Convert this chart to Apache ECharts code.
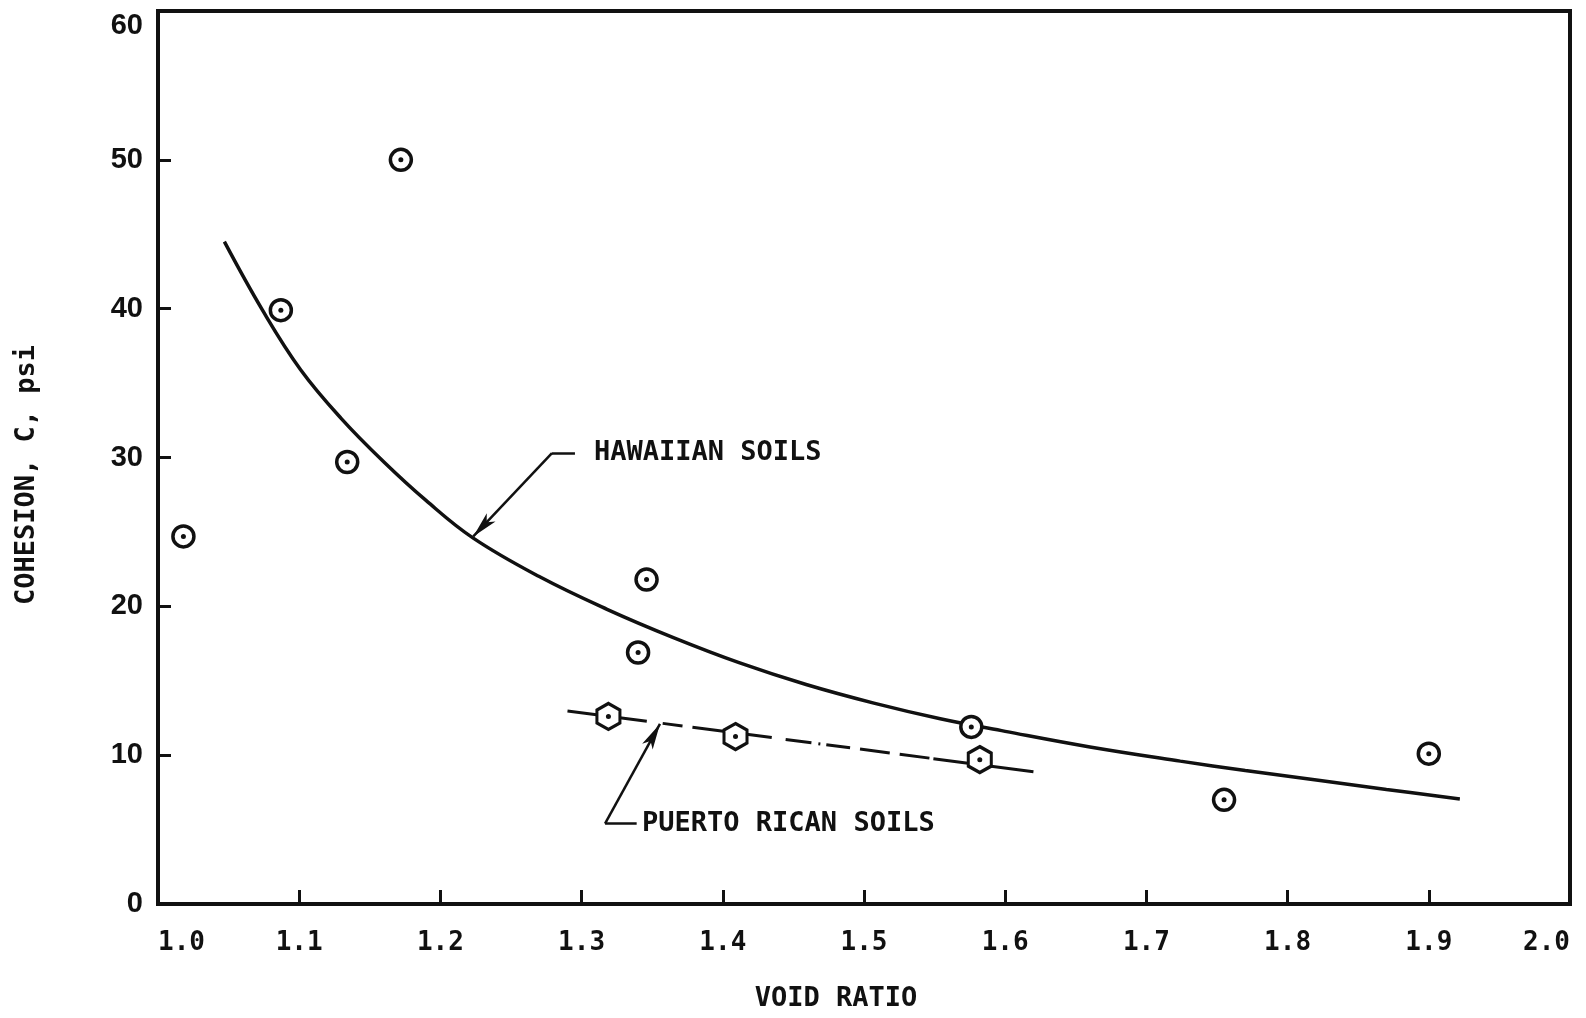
<!DOCTYPE html>
<html><head><meta charset="utf-8">
<script src="https://cdn.jsdelivr.net/npm/echarts@6/dist/echarts.min.js"></script>
<style>html,body{margin:0;padding:0;background:#fff}#c{width:1586px;height:1018px}</style>
</head><body><div id="c"></div>
<script>
// ---- data ----
const hawaiianPoints = [[1.018,24.7],[1.087,39.9],[1.134,29.7],[1.172,50.0],[1.346,21.8],[1.340,16.9],[1.576,11.9],[1.755,7.0],[1.900,10.1]];
const puertoRicanPoints = [[1.319,12.6],[1.409,11.25],[1.582,9.7]];
const hawaiianCurve = [[1.047,44.5],[1.074,39.9],[1.101,35.9],[1.130,32.6],[1.160,29.7],[1.190,27.1],[1.223,24.6],[1.270,22.0],[1.318,19.8],[1.365,17.9],[1.412,16.2],[1.459,14.75],[1.507,13.5],[1.554,12.45],[1.600,11.6],[1.660,10.55],[1.724,9.6],[1.770,8.97],[1.823,8.3],[1.870,7.7],[1.922,7.06]];
const puertoRicanLine = [[1.290,12.97],[1.620,8.89]];
const xTickLabels = ['1.0','1.1','1.2','1.3','1.4','1.5','1.6','1.7','1.8','1.9','2.0'];
const yTickLabels = ['0','10','20','30','40','50','60'];
const annotationLabels = ['HAWAIIAN SOILS','PUERTO RICAN SOILS'];
const annotationAnchors = [[1.3074,30.3],[1.3414,5.4]];
const hawaiianLeader = [[1.2953,30.3],[1.2790,30.3],[1.2233,24.7]];
const puertoRicanLeader = [[1.339,5.4],[1.3166,5.4],[1.3555,12.1]];
const xTitle = 'VOID RATIO';
const yTitle = 'COHESION, C, psi';

const MONO = "'DejaVu Sans Mono','Liberation Mono',monospace";
const INK = '#111';

function leaderLines(pts){
  return [
    [{coord: pts[0], symbol:'none'}, {coord: pts[1], symbol:'none'}],
    [{coord: pts[1], symbol:'none'}, {coord: pts[2], symbol:'arrow', symbolSize:[9,26]}]
  ];
}

const chart = echarts.init(document.getElementById('c'), null, {renderer:'canvas'});
chart.setOption({
  animation: false,
  backgroundColor: '#fff',
  grid: {left:158, right:16, top:11, bottom:114, show:true, borderColor:INK, borderWidth:4, backgroundColor:'transparent'},
  xAxis: {
    type:'value', min:1.0, max:2.0, interval:0.1,
    axisLine:{show:true, lineStyle:{color:INK, width:4}},
    axisTick:{show:true, inside:true, length:14, lineStyle:{color:INK, width:3}},
    splitLine:{show:false},
    axisLabel:{
      margin:26, color:INK, fontFamily:MONO, fontSize:26, fontWeight:'bold',
      alignMinLabel:'left', alignMaxLabel:'right',
      formatter:(v)=>xTickLabels[Math.round((v-1)*10)]
    }
  },
  yAxis: {
    type:'value', min:0, max:60, interval:10,
    axisLine:{show:true, lineStyle:{color:INK, width:4}},
    axisTick:{show:true, inside:true, length:13, lineStyle:{color:INK, width:3}},
    splitLine:{show:false},
    axisLabel:{
      margin:15, color:INK, fontFamily:"'Liberation Sans','DejaVu Sans',sans-serif", fontSize:29, fontWeight:'bold',
      verticalAlignMaxLabel:'top',
      formatter:(v)=>yTickLabels[Math.round(v/10)]
    }
  },
  graphic: [
    {type:'text', x:836, y:999, silent:true,
     style:{text:xTitle, fontFamily:MONO, fontSize:27, fontWeight:'bold', fill:INK, align:'center', verticalAlign:'middle'}},
    {type:'text', x:27, y:475, rotation:Math.PI/2, silent:true,
     style:{text:yTitle, fontFamily:MONO, fontSize:27, fontWeight:'bold', fill:INK, align:'center', verticalAlign:'middle'}}
  ],
  series: [
    {name:'Hawaiian curve', type:'line', data:hawaiianCurve, smooth:0.4, showSymbol:false, silent:true, z:2,
     lineStyle:{color:INK, width:3.5}},
    {name:'Puerto Rican line', type:'line', data:puertoRicanLine, showSymbol:false, silent:true, z:2,
     lineStyle:{color:INK, width:3, type:[80,16,20,10,80,14,26,7,2,6,24,10,30,10,30,4,140]}},
    {name:'Hawaiian soils', type:'scatter', data:hawaiianPoints, symbol:'circle', symbolSize:21, z:5, silent:true,
     itemStyle:{color:'#fff', borderColor:INK, borderWidth:3.5, opacity:1}},
    {name:'Puerto Rican soils', type:'scatter', data:puertoRicanPoints, z:5, silent:true,
     symbol:'path://M0,-1L0.866,-0.5L0.866,0.5L0,1L-0.866,0.5L-0.866,-0.5Z', symbolSize:[23,26],
     itemStyle:{color:'#fff', borderColor:INK, borderWidth:3.2, opacity:1}},
    {name:'centre dots', type:'scatter', data:hawaiianPoints.concat(puertoRicanPoints), symbol:'circle', symbolSize:5, z:6, silent:true,
     itemStyle:{color:INK, opacity:1}},
    {name:'annotations', type:'scatter', z:7, silent:true, symbolSize:0,
     itemStyle:{opacity:1},
     data: annotationAnchors.map((p,i)=>({value:p, label:{formatter:annotationLabels[i]}})),
     label:{show:true, position:'right', distance:2, color:INK, fontFamily:MONO, fontSize:27, fontWeight:'bold'},
     markLine:{silent:true, animation:false, label:{show:false},
       lineStyle:{color:INK, width:2.5, type:'solid', opacity:1},
       emphasis:{disabled:true},
       data: leaderLines(hawaiianLeader).concat(leaderLines(puertoRicanLeader))}
    }
  ]
});
</script></body></html>
